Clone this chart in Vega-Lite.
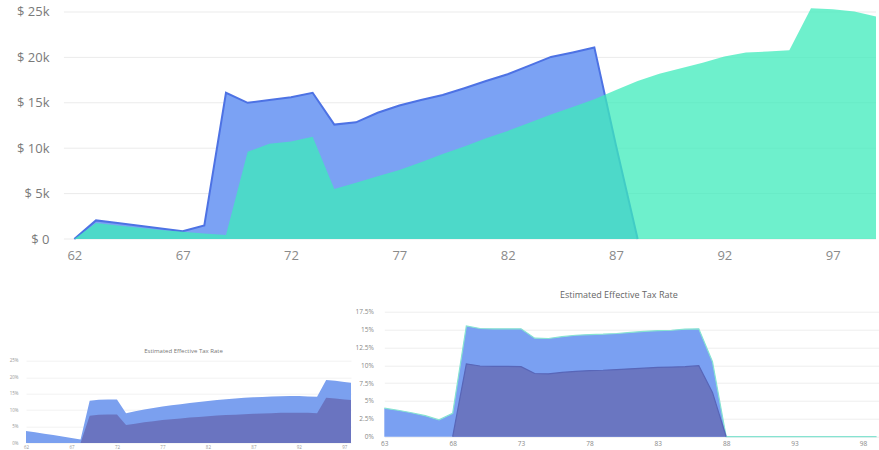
{
  "$schema": "https://vega.github.io/schema/vega-lite/v6.json",
  "autosize": {"type": "pad"},
  "padding": {"left": 9, "top": 5, "right": 0, "bottom": 0},
  "background": "white",
  "config": {
    "view": {"stroke": null},
    "font": "Open Sans",
    "axis": {"domain": false, "ticks": false, "labelFont": "Open Sans", "title": null, "labelFlush": false, "labelOverlap": false, "labelBound": false, "labelSeparation": 0}
  },
  "datasets": {
    "money": [
      {"age": 62, "s": "blue", "v": 0}, {"age": 63, "s": "blue", "v": 2050}, {"age": 64, "s": "blue", "v": 1750},
      {"age": 65, "s": "blue", "v": 1450}, {"age": 66, "s": "blue", "v": 1150}, {"age": 67, "s": "blue", "v": 850},
      {"age": 68, "s": "blue", "v": 1500}, {"age": 69, "s": "blue", "v": 16100}, {"age": 70, "s": "blue", "v": 15000},
      {"age": 71, "s": "blue", "v": 15300}, {"age": 72, "s": "blue", "v": 15600}, {"age": 73, "s": "blue", "v": 16100},
      {"age": 74, "s": "blue", "v": 12600}, {"age": 75, "s": "blue", "v": 12850}, {"age": 76, "s": "blue", "v": 13900},
      {"age": 77, "s": "blue", "v": 14700}, {"age": 78, "s": "blue", "v": 15300}, {"age": 79, "s": "blue", "v": 15850},
      {"age": 80, "s": "blue", "v": 16600}, {"age": 81, "s": "blue", "v": 17400}, {"age": 82, "s": "blue", "v": 18150},
      {"age": 83, "s": "blue", "v": 19100}, {"age": 84, "s": "blue", "v": 20050}, {"age": 85, "s": "blue", "v": 20550},
      {"age": 86, "s": "blue", "v": 21100}, {"age": 87, "s": "blue", "v": 10300}, {"age": 88, "s": "blue", "v": 0},
      {"age": 62, "s": "green", "v": 0}, {"age": 63, "s": "green", "v": 1750}, {"age": 64, "s": "green", "v": 1500},
      {"age": 65, "s": "green", "v": 1250}, {"age": 66, "s": "green", "v": 1000}, {"age": 67, "s": "green", "v": 800},
      {"age": 68, "s": "green", "v": 600}, {"age": 69, "s": "green", "v": 450}, {"age": 70, "s": "green", "v": 9600},
      {"age": 71, "s": "green", "v": 10500}, {"age": 72, "s": "green", "v": 10750}, {"age": 73, "s": "green", "v": 11250},
      {"age": 74, "s": "green", "v": 5500}, {"age": 75, "s": "green", "v": 6200}, {"age": 76, "s": "green", "v": 6900},
      {"age": 77, "s": "green", "v": 7600}, {"age": 78, "s": "green", "v": 8450}, {"age": 79, "s": "green", "v": 9350},
      {"age": 80, "s": "green", "v": 10200}, {"age": 81, "s": "green", "v": 11100}, {"age": 82, "s": "green", "v": 11900},
      {"age": 83, "s": "green", "v": 12800}, {"age": 84, "s": "green", "v": 13700}, {"age": 85, "s": "green", "v": 14550},
      {"age": 86, "s": "green", "v": 15400}, {"age": 87, "s": "green", "v": 16400}, {"age": 88, "s": "green", "v": 17400},
      {"age": 89, "s": "green", "v": 18200}, {"age": 90, "s": "green", "v": 18800}, {"age": 91, "s": "green", "v": 19400},
      {"age": 92, "s": "green", "v": 20100}, {"age": 93, "s": "green", "v": 20550}, {"age": 94, "s": "green", "v": 20650},
      {"age": 95, "s": "green", "v": 20800}, {"age": 96, "s": "green", "v": 25400}, {"age": 97, "s": "green", "v": 25300},
      {"age": 98, "s": "green", "v": 25050}, {"age": 99, "s": "green", "v": 24500}
    ],
    "grid": [{"g": 0}, {"g": 5000}, {"g": 10000}, {"g": 15000}, {"g": 20000}, {"g": 25000}],
    "taxLeft": [
      {"age": 62, "s": "total", "v": 3.66}, {"age": 63, "s": "total", "v": 3.25}, {"age": 64, "s": "total", "v": 2.83},
      {"age": 65, "s": "total", "v": 2.42}, {"age": 66, "s": "total", "v": 2.0}, {"age": 67, "s": "total", "v": 1.55},
      {"age": 68, "s": "total", "v": 1.1}, {"age": 69, "s": "total", "v": 12.9}, {"age": 70, "s": "total", "v": 13.2},
      {"age": 71, "s": "total", "v": 13.3}, {"age": 72, "s": "total", "v": 13.3}, {"age": 73, "s": "total", "v": 9.1},
      {"age": 74, "s": "total", "v": 9.7}, {"age": 75, "s": "total", "v": 10.2}, {"age": 76, "s": "total", "v": 10.7},
      {"age": 77, "s": "total", "v": 11.1}, {"age": 78, "s": "total", "v": 11.5}, {"age": 79, "s": "total", "v": 11.8},
      {"age": 80, "s": "total", "v": 12.2}, {"age": 81, "s": "total", "v": 12.5}, {"age": 82, "s": "total", "v": 12.8},
      {"age": 83, "s": "total", "v": 13.1}, {"age": 84, "s": "total", "v": 13.35}, {"age": 85, "s": "total", "v": 13.6},
      {"age": 86, "s": "total", "v": 13.8}, {"age": 87, "s": "total", "v": 13.95}, {"age": 88, "s": "total", "v": 14.05},
      {"age": 89, "s": "total", "v": 14.15}, {"age": 90, "s": "total", "v": 14.25}, {"age": 91, "s": "total", "v": 14.35},
      {"age": 92, "s": "total", "v": 14.35}, {"age": 93, "s": "total", "v": 14.2}, {"age": 94, "s": "total", "v": 14.1},
      {"age": 95, "s": "total", "v": 19.2}, {"age": 96, "s": "total", "v": 19.0}, {"age": 97, "s": "total", "v": 18.6},
      {"age": 98, "s": "total", "v": 18.3},
      {"age": 68, "s": "inner", "v": 0}, {"age": 69, "s": "inner", "v": 8.3}, {"age": 70, "s": "inner", "v": 8.6},
      {"age": 71, "s": "inner", "v": 8.7}, {"age": 72, "s": "inner", "v": 8.7}, {"age": 73, "s": "inner", "v": 5.5},
      {"age": 74, "s": "inner", "v": 5.9}, {"age": 75, "s": "inner", "v": 6.3}, {"age": 76, "s": "inner", "v": 6.65},
      {"age": 77, "s": "inner", "v": 7.0}, {"age": 78, "s": "inner", "v": 7.25}, {"age": 79, "s": "inner", "v": 7.5},
      {"age": 80, "s": "inner", "v": 7.75}, {"age": 81, "s": "inner", "v": 7.95}, {"age": 82, "s": "inner", "v": 8.15},
      {"age": 83, "s": "inner", "v": 8.35}, {"age": 84, "s": "inner", "v": 8.5}, {"age": 85, "s": "inner", "v": 8.65},
      {"age": 86, "s": "inner", "v": 8.8}, {"age": 87, "s": "inner", "v": 8.9}, {"age": 88, "s": "inner", "v": 9.0},
      {"age": 89, "s": "inner", "v": 9.1}, {"age": 90, "s": "inner", "v": 9.2}, {"age": 91, "s": "inner", "v": 9.25},
      {"age": 92, "s": "inner", "v": 9.25}, {"age": 93, "s": "inner", "v": 9.2}, {"age": 94, "s": "inner", "v": 9.1},
      {"age": 95, "s": "inner", "v": 13.8}, {"age": 96, "s": "inner", "v": 13.6}, {"age": 97, "s": "inner", "v": 13.3},
      {"age": 98, "s": "inner", "v": 13.0}
    ],
    "taxRight": [
      {"age": 63, "s": "total", "v": 4.0}, {"age": 64, "s": "total", "v": 3.7}, {"age": 65, "s": "total", "v": 3.35},
      {"age": 66, "s": "total", "v": 2.95}, {"age": 67, "s": "total", "v": 2.35}, {"age": 68, "s": "total", "v": 3.27},
      {"age": 69, "s": "total", "v": 15.5}, {"age": 70, "s": "total", "v": 15.15}, {"age": 71, "s": "total", "v": 15.1},
      {"age": 72, "s": "total", "v": 15.1}, {"age": 73, "s": "total", "v": 15.1}, {"age": 74, "s": "total", "v": 13.8},
      {"age": 75, "s": "total", "v": 13.75}, {"age": 76, "s": "total", "v": 14.0}, {"age": 77, "s": "total", "v": 14.2},
      {"age": 78, "s": "total", "v": 14.3}, {"age": 79, "s": "total", "v": 14.35}, {"age": 80, "s": "total", "v": 14.45},
      {"age": 81, "s": "total", "v": 14.6}, {"age": 82, "s": "total", "v": 14.75}, {"age": 83, "s": "total", "v": 14.85},
      {"age": 84, "s": "total", "v": 14.9}, {"age": 85, "s": "total", "v": 15.05}, {"age": 86, "s": "total", "v": 15.1},
      {"age": 87, "s": "total", "v": 10.5}, {"age": 88, "s": "total", "v": 0}, {"age": 89, "s": "total", "v": 0},
      {"age": 90, "s": "total", "v": 0}, {"age": 91, "s": "total", "v": 0}, {"age": 92, "s": "total", "v": 0},
      {"age": 93, "s": "total", "v": 0}, {"age": 94, "s": "total", "v": 0}, {"age": 95, "s": "total", "v": 0},
      {"age": 96, "s": "total", "v": 0}, {"age": 97, "s": "total", "v": 0}, {"age": 98, "s": "total", "v": 0},
      {"age": 99, "s": "total", "v": 0},
      {"age": 68, "s": "inner", "v": 0}, {"age": 69, "s": "inner", "v": 10.2}, {"age": 70, "s": "inner", "v": 9.9},
      {"age": 71, "s": "inner", "v": 9.85}, {"age": 72, "s": "inner", "v": 9.85}, {"age": 73, "s": "inner", "v": 9.8},
      {"age": 74, "s": "inner", "v": 8.85}, {"age": 75, "s": "inner", "v": 8.8}, {"age": 76, "s": "inner", "v": 9.0},
      {"age": 77, "s": "inner", "v": 9.15}, {"age": 78, "s": "inner", "v": 9.25}, {"age": 79, "s": "inner", "v": 9.3},
      {"age": 80, "s": "inner", "v": 9.4}, {"age": 81, "s": "inner", "v": 9.5}, {"age": 82, "s": "inner", "v": 9.6},
      {"age": 83, "s": "inner", "v": 9.7}, {"age": 84, "s": "inner", "v": 9.75}, {"age": 85, "s": "inner", "v": 9.8},
      {"age": 86, "s": "inner", "v": 9.95}, {"age": 87, "s": "inner", "v": 6.2}, {"age": 88, "s": "inner", "v": 0}
    ]
  },
  "vconcat": [
    {
      "width": 850,
      "height": 232,
      "layer": [
        {
          "data": {"name": "grid"},
          "mark": {"type": "rule", "color": "#ebebeb", "strokeWidth": 1},
          "encoding": {
            "y": {"field": "g", "type": "quantitative", "scale": {"domain": [0, 25550], "nice": false}},
            "x": {"datum": 61.52, "type": "quantitative", "scale": {"domain": [59.77, 99], "nice": false, "zero": false}},
            "x2": {"datum": 99}
          }
        },
        {
          "data": {"name": "money"},
          "transform": [{"filter": "datum.s === 'blue'"}],
          "mark": {"type": "area", "color": "#7ba2f4", "opacity": 1, "line": {"color": "#4d72e4", "strokeWidth": 2}},
          "encoding": {
            "x": {"field": "age", "type": "quantitative"},
            "y": {"field": "v", "type": "quantitative"}
          }
        },
        {
          "data": {"name": "money"},
          "transform": [{"filter": "datum.s === 'green'"}],
          "mark": {"type": "area", "color": "#3debbb", "opacity": 1, "fillOpacity": 0.75},
          "encoding": {
            "x": {
              "field": "age", "type": "quantitative",
              "axis": {"values": [62, 67, 72, 77, 82, 87, 92, 97], "grid": false, "labelFontSize": 13, "labelColor": "#8a8a8a", "labelPadding": 10}
            },
            "y": {
              "field": "v", "type": "quantitative",
              "axis": {"values": [0, 5000, 10000, 15000, 20000, 25000], "grid": false, "offset": -38, "labelFontSize": 13, "labelColor": "#7a7a7a", "labelPadding": 15,
                "labelExpr": "datum.value == 0 ? '$ 0' : '$ ' + (datum.value / 1000) + 'k'"}
            }
          }
        }
      ]
    },
    {
      "hconcat": [
        {
          "width": 325,
          "height": 131.3,
          "title": {"text": "Estimated Effective Tax Rate", "fontSize": 6, "fontWeight": "normal", "color": "#777", "offset": -42, "dx": -5, "anchor": "middle"},
          "data": {"name": "taxLeft"},
          "encoding": {
            "x": {"field": "age", "type": "quantitative", "scale": {"domain": [62, 97.73], "nice": false, "zero": false},
              "axis": {"values": [62, 67, 72, 77, 82, 87, 92, 97], "grid": false, "labelOverlap": false, "labelFontSize": 4.5, "labelColor": "#999", "labelPadding": 1.5}},
            "y": {"field": "v", "type": "quantitative", "scale": {"domain": [0, 40.03], "nice": false},
              "axis": {"values": [0, 5, 10, 15, 20, 25], "labelOverlap": false, "gridColor": "#f2f2f2", "labelFontSize": 4.5, "labelColor": "#999", "labelPadding": 8, "labelExpr": "datum.value + '%'"}}
          },
          "layer": [
            {
              "transform": [{"filter": "datum.s === 'total'"}],
              "mark": {"type": "area", "color": "#7ba0ef", "opacity": 1, "clip": true}
            },
            {
              "transform": [{"filter": "datum.s === 'inner'"}],
              "mark": {"type": "area", "color": "#6a74c0", "opacity": 1, "clip": true}
            }
          ]
        },
        {
          "width": 495,
          "height": 125,
          "title": {"text": "Estimated Effective Tax Rate", "fontSize": 9, "fontWeight": "normal", "color": "#666", "offset": 9, "dx": -13, "anchor": "middle"},
          "data": {"name": "taxRight"},
          "encoding": {
            "x": {"field": "age", "type": "quantitative", "scale": {"domain": [63, 99.2], "nice": false, "zero": false},
              "axis": {"values": [63, 68, 73, 78, 83, 88, 93, 98], "grid": false, "labelOverlap": false, "labelFontSize": 6.5, "labelColor": "#888", "labelPadding": 3.5}},
            "y": {"field": "v", "type": "quantitative", "scale": {"domain": [0, 17.5], "nice": false},
              "axis": {"values": [0, 2.5, 5, 7.5, 10, 12.5, 15, 17.5], "labelOverlap": false, "gridColor": "#eeeeee", "labelFontSize": 6.5, "labelColor": "#888", "labelPadding": 11, "labelExpr": "datum.value + '%'"}}
          },
          "layer": [
            {
              "transform": [{"filter": "datum.s === 'total'"}],
              "mark": {"type": "area", "color": "#7aa0f2", "opacity": 1, "line": {"color": "#86e3d1", "strokeWidth": 1.2}}
            },
            {
              "transform": [{"filter": "datum.s === 'inner'"}],
              "mark": {"type": "area", "color": "#6a76c1", "opacity": 1, "line": {"color": "#5866b8", "strokeWidth": 1.2}}
            }
          ]
        }
      ],
      "spacing": 33.3,
      "bounds": "flush"
    }
  ],
  "spacing": 72.7,
  "bounds": "flush"
}
